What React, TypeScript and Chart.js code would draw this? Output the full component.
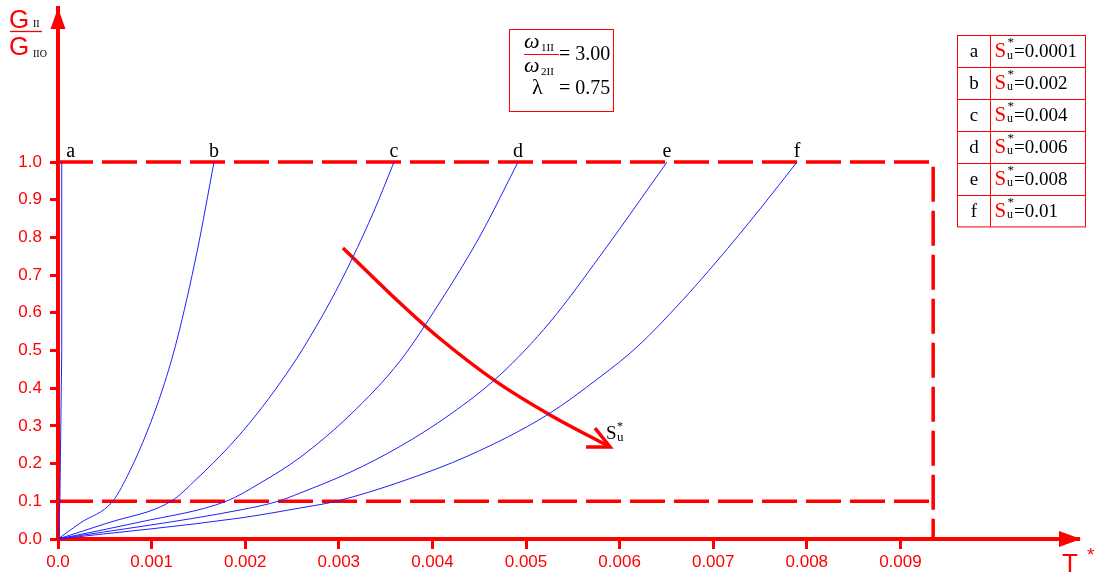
import React, { useEffect, useRef } from 'react';
import { Chart, registerables } from 'chart.js';

Chart.register(...registerables);

const RED = '#ff0000';
const BLUE = '#2020ff';
const SERIF = '"Liberation Serif", "DejaVu Serif", serif';
const SANS = '"Liberation Sans", Arial, sans-serif';

// axis ticks
const xTickValues = [0, 0.001, 0.002, 0.003, 0.004, 0.005, 0.006, 0.007, 0.008, 0.009];
const xTickLabels = ['0.0', '0.001', '0.002', '0.003', '0.004', '0.005', '0.006', '0.007', '0.008', '0.009'];
const yTickValues = [0, 0.1, 0.2, 0.3, 0.4, 0.5, 0.6, 0.7, 0.8, 0.9, 1.0];
const yTickLabels = ['0.0', '0.1', '0.2', '0.3', '0.4', '0.5', '0.6', '0.7', '0.8', '0.9', '1.0'];
const X_MAX = 0.010908;
const Y_MAX = 1.4085;

// curve letters and legend values (S*u)
const curveLetters = ['a', 'b', 'c', 'd', 'e', 'f'];
const legendValues = ['0.0001', '0.002', '0.004', '0.006', '0.008', '0.01'];

// curves (T*, G/G0)
const curveAX = [0, 0.00002, 0.00004, 0.00004];
const curveAY = [0, 0.1, 0.5, 1.0];
const curveBX = [0, 0.000235, 0.000584, 0.000769, 0.000951, 0.001122, 0.001271, 0.001485, 0.001667];
const curveBY = [0, 0.042, 0.1, 0.1812, 0.2838, 0.4013, 0.5279, 0.7613, 1.0];
const curveCX = [0, 0.000524, 0.001207, 0.001485, 0.001838, 0.002126, 0.002372, 0.002607, 0.002906, 0.003141, 0.003376, 0.00359];
const curveCY = [0, 0.042, 0.1, 0.1602, 0.248, 0.3321, 0.4138, 0.501, 0.6286, 0.7427, 0.87, 1.0];
const curveDX = [0, 0.000876, 0.001795, 0.002158, 0.002585, 0.00312, 0.003654, 0.004081, 0.004509, 0.004915];
const curveDY = [0, 0.045, 0.1, 0.148, 0.2162, 0.3289, 0.4721, 0.6286, 0.8037, 1.0];
const curveEX = [0, 0.001945, 0.00235, 0.002585, 0.00312, 0.003654, 0.004188, 0.004722, 0.005257, 0.005791, 0.006507];
const curveEY = [0, 0.077, 0.1, 0.1218, 0.1769, 0.2456, 0.3302, 0.435, 0.5756, 0.7507, 1.0];
const curveFX = [0, 0.001945, 0.002585, 0.00297, 0.003654, 0.004402, 0.005224, 0.005791, 0.006186, 0.006645, 0.007041, 0.0075, 0.007895];
const curveFY = [0, 0.0557, 0.0822, 0.1, 0.1512, 0.2228, 0.3289, 0.4297, 0.5093, 0.626, 0.7374, 0.8753, 1.0];

// dashed frame
const frameX = [0, 0.00935, 0.00935];
const frameY = [1.0, 1.0, 0];
const lowerX = [0, 0.00935];
const lowerY = [0.1, 0.1];

// red arrow (increasing S*u)
const arrowX = [0.003044, 0.003654, 0.00406, 0.00469, 0.005257, 0.005898];
const arrowY = [0.772, 0.626, 0.5358, 0.416, 0.329, 0.244];
const arrowHeadX = [0.005737, 0.005898, 0.005642];
const arrowHeadY = [0.294, 0.244, 0.244];

const ratioText = '3.00';
const lambdaText = '0.75';

const zip = (xs: number[], ys: number[]) => xs.map((x, i) => ({ x, y: ys[i] }));

const curveSets = [
  [curveAX, curveAY],
  [curveBX, curveBY],
  [curveCX, curveCY],
  [curveDX, curveDY],
  [curveEX, curveEY],
  [curveFX, curveFY],
];

function txt(ctx: CanvasRenderingContext2D, s: string, x: number, y: number, font: string, color: string, align: CanvasTextAlign = 'left') {
  ctx.font = font;
  ctx.fillStyle = color;
  ctx.textAlign = align;
  ctx.textBaseline = 'alphabetic';
  ctx.fillText(s, x, y);
}

const decorPlugin = {
  id: 'decor',
  afterDatasetsDraw(chart: any) {
    const ctx: CanvasRenderingContext2D = chart.ctx;
    const { left, top, right, bottom } = chart.chartArea;
    ctx.save();

    // axis arrowheads
    ctx.fillStyle = RED;
    ctx.beginPath();
    ctx.moveTo(left, top);
    ctx.lineTo(left - 7.5, top + 21);
    ctx.lineTo(left + 7.5, top + 21);
    ctx.closePath();
    ctx.fill();
    ctx.beginPath();
    ctx.moveTo(right + 2, bottom);
    ctx.lineTo(right - 20, bottom - 8);
    ctx.lineTo(right - 20, bottom + 8);
    ctx.closePath();
    ctx.fill();

    // curve letters
    curveLetters.forEach((l, i) => {
      const meta = chart.getDatasetMeta(i);
      const pt = meta.data[meta.data.length - 1];
      const dx = i === 0 ? 9 : 0;
      txt(ctx, l, pt.x + dx, pt.y - 5, `20px ${SERIF}`, '#000', 'center');
    });

    // S*u label near arrow tip
    const headMeta = chart.getDatasetMeta(9);
    const tip = headMeta.data[1];
    txt(ctx, 'S', tip.x - 4, tip.y - 8, `19px ${SERIF}`, '#000');
    txt(ctx, '*', tip.x + 7, tip.y - 17, `12px ${SERIF}`, '#000');
    txt(ctx, 'u', tip.x + 7, tip.y - 6, `13px ${SERIF}`, '#000');

    // y-axis title G_II / G_IIO
    txt(ctx, 'G', 9, 28, `26px ${SANS}`, RED);
    txt(ctx, 'II', 33, 27, `10px ${SERIF}`, '#000');
    ctx.strokeStyle = RED;
    ctx.lineWidth = 1.3;
    ctx.beginPath();
    ctx.moveTo(10, 31.5);
    ctx.lineTo(42, 31.5);
    ctx.stroke();
    txt(ctx, 'G', 9, 55, `26px ${SANS}`, RED);
    txt(ctx, 'IIO', 33, 57, `10px ${SERIF}`, '#000');

    // x-axis title T*
    txt(ctx, 'T', 1062, 572, `26px ${SANS}`, RED);
    txt(ctx, '*', 1087, 561, `19px ${SANS}`, RED);

    // info box
    ctx.strokeStyle = RED;
    ctx.lineWidth = 1;
    ctx.strokeRect(509.5, 29.5, 104, 82);
    txt(ctx, 'ω', 524, 48, `italic 22px ${SERIF}`, '#000');
    txt(ctx, '1II', 541, 51, `11px ${SERIF}`, '#000');
    ctx.strokeStyle = RED;
    ctx.beginPath();
    ctx.moveTo(524, 54.5);
    ctx.lineTo(559, 54.5);
    ctx.stroke();
    txt(ctx, 'ω', 524, 72, `italic 22px ${SERIF}`, '#000');
    txt(ctx, '2II', 541, 75, `11px ${SERIF}`, '#000');
    txt(ctx, '= ' + ratioText, 559, 60, `20px ${SERIF}`, '#000');
    txt(ctx, 'λ', 532, 94, `22px ${SERIF}`, '#000');
    txt(ctx, '= ' + lambdaText, 559, 94, `20px ${SERIF}`, '#000');

    // legend table
    const L = 957.5, D = 990.5, R = 1085.5, T0 = 35.5, RH = 31.9;
    ctx.strokeStyle = RED;
    ctx.lineWidth = 1;
    ctx.strokeRect(L, T0, R - L, RH * 6);
    ctx.beginPath();
    for (let i = 1; i < 6; i++) {
      const y = Math.round(T0 + RH * i) + 0.5;
      ctx.moveTo(L, y);
      ctx.lineTo(R, y);
    }
    ctx.moveTo(D, T0);
    ctx.lineTo(D, T0 + RH * 6);
    ctx.stroke();
    curveLetters.forEach((l, i) => {
      const base = T0 + RH * i + 21.5;
      txt(ctx, l, (L + D) / 2, base, `19px ${SERIF}`, '#000', 'center');
      txt(ctx, 'S', 994.5, base, `21px ${SERIF}`, RED);
      txt(ctx, '*', 1007.5, base - 11, `13px ${SERIF}`, '#000');
      txt(ctx, 'u', 1007, base + 1.5, `12px ${SERIF}`, '#000');
      txt(ctx, '=' + legendValues[i], 1014, base, `19px ${SERIF}`, '#000');
    });

    ctx.restore();
  },
};

export default function App() {
  const ref = useRef<HTMLCanvasElement | null>(null);
  useEffect(() => {
    if (!ref.current) return;
    const curveDatasets = curveSets.map(([xs, ys], i) => ({
      data: zip(xs, ys),
      showLine: true,
      borderColor: BLUE,
      borderWidth: 1,
      pointRadius: 0,
      tension: 0,
      cubicInterpolationMode: i === 0 ? 'default' : 'monotone',
    }));
    const chart = new Chart(ref.current, {
      type: 'scatter',
      data: {
        datasets: [
          ...curveDatasets,
          {
            data: zip(frameX, frameY),
            showLine: true,
            borderColor: RED,
            borderWidth: 3.5,
            borderDash: [35, 9],
            pointRadius: 0,
          },
          {
            data: zip(lowerX, lowerY),
            showLine: true,
            borderColor: RED,
            borderWidth: 3.5,
            borderDash: [35, 9],
            pointRadius: 0,
          },
          {
            data: zip(arrowX, arrowY),
            showLine: true,
            borderColor: RED,
            borderWidth: 3.5,
            pointRadius: 0,
            cubicInterpolationMode: 'monotone',
          },
          {
            data: zip(arrowHeadX, arrowHeadY),
            showLine: true,
            borderColor: RED,
            borderWidth: 3.5,
            pointRadius: 0,
            tension: 0,
          },
        ] as any,
      },
      options: {
        animation: false,
        responsive: false,
        maintainAspectRatio: false,
        layout: { padding: { top: 8, right: 18, left: 0, bottom: 0 } },
        plugins: { legend: { display: false }, tooltip: { enabled: false } },
        scales: {
          x: {
            type: 'linear',
            min: 0,
            max: X_MAX,
            afterBuildTicks: (s: any) => {
              s.ticks = xTickValues.map((v) => ({ value: v }));
            },
            afterFit: (s: any) => {
              s.height = 38;
              s.paddingLeft = 0;
              s.paddingRight = 0;
            },
            grid: {
              drawOnChartArea: false,
              drawTicks: true,
              tickLength: 10,
              tickWidth: 3,
              tickColor: RED,
            },
            border: { display: true, color: RED, width: 4 },
            ticks: {
              color: RED,
              font: { family: SANS, size: 17 },
              padding: 3,
              maxRotation: 0,
              autoSkip: false,
              callback: (_v: any, i: number) => xTickLabels[i],
            },
          },
          y: {
            type: 'linear',
            min: 0,
            max: Y_MAX,
            afterBuildTicks: (s: any) => {
              s.ticks = yTickValues.map((v) => ({ value: v }));
            },
            afterFit: (s: any) => {
              s.width = 58;
              s.paddingTop = 0;
              s.paddingBottom = 0;
            },
            grid: {
              drawOnChartArea: false,
              drawTicks: true,
              tickLength: 8,
              tickWidth: 3,
              tickColor: RED,
            },
            border: { display: true, color: RED, width: 4 },
            ticks: {
              color: RED,
              font: { family: SANS, size: 17 },
              padding: 8,
              autoSkip: false,
              callback: (_v: any, i: number) => yTickLabels[i],
            },
          },
        },
      } as any,
      plugins: [decorPlugin],
    });
    return () => chart.destroy();
  }, []);
  return (
    <div style={{ position: 'absolute', left: 0, top: 0, width: 1097, height: 577, background: '#fff' }}>
      <canvas ref={ref} width={1097} height={577} style={{ display: 'block' }} />
    </div>
  );
}
